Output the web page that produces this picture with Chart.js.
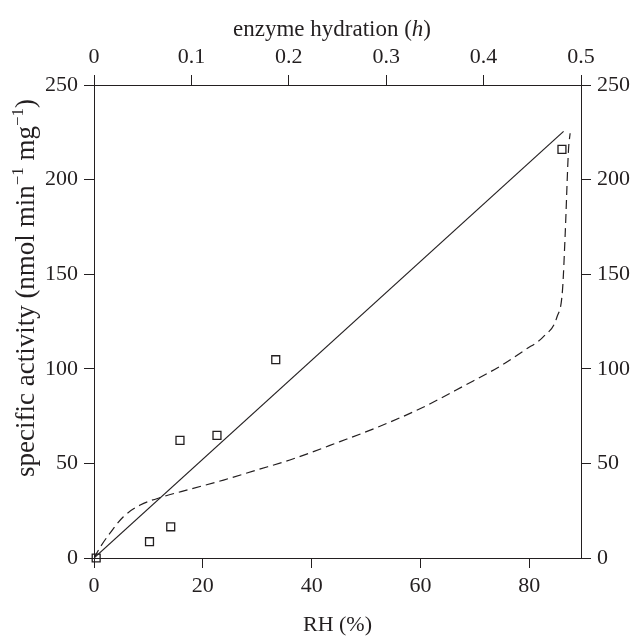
<!DOCTYPE html>
<html>
<head>
<meta charset="utf-8">
<script src="https://cdn.jsdelivr.net/npm/chart.js@4"></script>
<style>
  html, body { margin: 0; padding: 0; background: #fff; }
  #wrap { width: 633px; height: 641px; position: relative; }
</style>
</head>
<body>
<div id="wrap"><canvas id="activityChart"></canvas></div>
<script>
// measured squares
const rhMeasured = [0.4, 10.2, 14.1, 15.8, 22.6, 33.4, 86.0];
const activityMeasured = [0, 8.6, 16.5, 62.2, 64.8, 104.8, 216.0];

// straight line fit
const rhLinear = [0, 86.3];
const activityLinear = [0, 225.5];

// dashed model curve
const rhModel = [0, 1.2, 2.9, 5.4, 8.5, 12.7, 17.6, 23.8, 29.9, 36.0, 45.2, 52, 60, 68, 75, 79.2, 82.6, 85.1, 86.1, 86.6, 87.2, 87.5];
const activityModel = [0, 6, 13, 21.8, 28, 32.4, 36.3, 41.2, 46.5, 51.8, 61.5, 69, 79, 91, 102, 110, 117, 127.5, 141.6, 171.6, 215.6, 224.5];

const rhTicks = [0, 20, 40, 60, 80];
const hydrationTicks = [0, 0.1, 0.2, 0.3, 0.4, 0.5];
const activityTicks = [0, 50, 100, 150, 200, 250];

const ink = '#231f20';
const serif = '"Liberation Serif", "DejaVu Serif", serif';

function toPoints(xs, ys) {
    return xs.map((x, i) => ({ x: x, y: ys[i] }));
}

function fixedTicks(values) {
    return function (scale) {
        scale.ticks = values.map(v => ({ value: v }));
    };
}

const axisCommon = {
    border: { display: true, color: ink, width: 1 },
    grid: { display: true, drawOnChartArea: false, drawTicks: true, tickLength: 10, color: ink, tickColor: ink },
    ticks: { color: ink, padding: 5, font: { family: serif, size: 22 } }
};

// draws a run of text pieces (italic h, superscripts) along the baseline
function drawPieces(ctx, parts) {
    let total = 0;
    parts.forEach(p => { ctx.font = p.font; p.w = ctx.measureText(p.text).width; total += p.w; });
    let x = -total / 2;
    parts.forEach(p => {
        ctx.font = p.font;
        ctx.fillText(p.text, x, p.rise || 0);
        x += p.w;
    });
}

// top title (italic h) and y title (superscripts) are drawn here
const axisTitles = {
    id: 'axisTitles',
    afterDraw(chart) {
        const ctx = chart.ctx;
        const area = chart.chartArea;
        ctx.save();
        ctx.fillStyle = ink;
        ctx.textBaseline = 'alphabetic';
        ctx.textAlign = 'left';

        ctx.save();
        ctx.translate(332, 36);
        drawPieces(ctx, [
            { text: 'enzyme hydration (', font: '23px ' + serif },
            { text: 'h', font: 'italic 23px ' + serif },
            { text: ')', font: '23px ' + serif }
        ]);
        ctx.restore();

        ctx.save();
        ctx.translate(34, 288);
        ctx.rotate(-Math.PI / 2);
        drawPieces(ctx, [
            { text: 'specific activity (nmol min', font: '27px ' + serif },
            { text: '\u22121', font: '17px ' + serif, rise: -11 },
            { text: ' mg', font: '27px ' + serif },
            { text: '\u22121', font: '17px ' + serif, rise: -11 },
            { text: ')', font: '27px ' + serif }
        ]);
        ctx.restore();

        ctx.restore();
    }
};

const ctx = document.getElementById('activityChart').getContext('2d');

new Chart(ctx, {
    type: 'scatter',
    data: {
        datasets: [
            {
                label: 'linear',
                type: 'line',
                data: toPoints(rhLinear, activityLinear),
                borderColor: ink,
                borderWidth: 1.2,
                pointRadius: 0,
                fill: false,
                xAxisID: 'x',
                yAxisID: 'y'
            },
            {
                label: 'model',
                type: 'line',
                data: toPoints(rhModel, activityModel),
                borderColor: ink,
                borderWidth: 1.2,
                borderDash: [9, 5],
                pointRadius: 0,
                cubicInterpolationMode: 'monotone',
                fill: false,
                xAxisID: 'x',
                yAxisID: 'y'
            },
            {
                label: 'measured',
                data: toPoints(rhMeasured, activityMeasured),
                pointStyle: 'rect',
                pointRadius: 5.6,
                pointHoverRadius: 5.6,
                pointBorderWidth: 1.3,
                pointBorderColor: ink,
                pointBackgroundColor: 'rgba(255,255,255,0)',
                showLine: false,
                clip: false,
                xAxisID: 'x',
                yAxisID: 'y'
            }
        ]
    },
    plugins: [axisTitles],
    options: {
        responsive: true,
        maintainAspectRatio: false,
        animation: false,
        layout: { padding: 0 },
        plugins: {
            legend: { display: false },
            tooltip: { enabled: false }
        },
        scales: {
            x: {
                ...axisCommon,
                type: 'linear',
                position: 'bottom',
                min: 0,
                max: 89.5,
                afterBuildTicks: fixedTicks(rhTicks),
                afterFit: s => { s.height = 83; },
                title: {
                    display: true,
                    text: 'RH (%)',
                    color: ink,
                    font: { family: serif, size: 22 },
                    padding: { top: 0, bottom: 3 }
                }
            },
            x2: {
                ...axisCommon,
                type: 'linear',
                position: 'top',
                min: 0,
                max: 0.5,
                afterBuildTicks: fixedTicks(hydrationTicks),
                afterFit: s => { s.height = 85; },
                ticks: { ...axisCommon.ticks, callback: v => v === 0 ? '0' : v.toFixed(1) }
            },
            y: {
                ...axisCommon,
                type: 'linear',
                position: 'left',
                min: 0,
                max: 250,
                afterBuildTicks: fixedTicks(activityTicks),
                afterFit: s => { s.width = 94; },
                ticks: { ...axisCommon.ticks, padding: 6 }
            },
            y2: {
                ...axisCommon,
                type: 'linear',
                position: 'right',
                min: 0,
                max: 250,
                afterBuildTicks: fixedTicks(activityTicks),
                afterFit: s => { s.width = 52; },
                ticks: { ...axisCommon.ticks, padding: 6 }
            }
        }
    }
});
</script>
</body>
</html>
